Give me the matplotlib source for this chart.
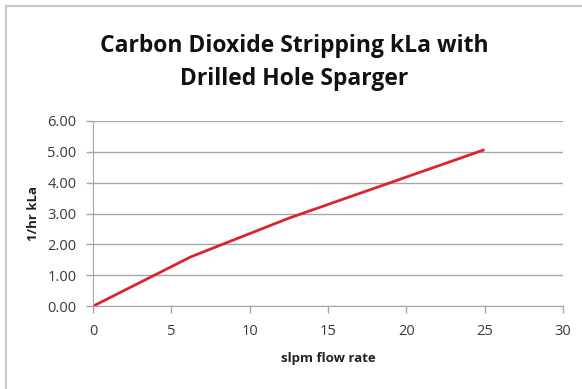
import matplotlib
matplotlib.use("Agg")
import matplotlib.pyplot as plt
from matplotlib.lines import Line2D

# flow rate (slpm) vs CO2 stripping kLa (1/hr)
flow_rate = [0, 6.25, 12.5, 25]
kla = [0.0, 1.6, 2.85, 5.07]

x_ticks = [0, 5, 10, 15, 20, 25, 30]
y_ticks = [0, 1, 2, 3, 4, 5, 6]

plt.rcParams['font.family'] = ['Open Sans', 'DejaVu Sans']

fig = plt.figure(figsize=(5.82, 3.89), dpi=100)
ax = fig.add_axes([0.160, 0.213, 0.807, 0.476])

ax.plot(flow_rate, kla, color='#d9262e', linewidth=2, solid_capstyle='butt')

ax.set_xlim(0, 30)
ax.set_ylim(0, 6)
ax.set_xticks(x_ticks)
ax.set_yticks(y_ticks)
ax.set_yticklabels(['%.2f' % v for v in y_ticks])
ax.grid(axis='y', color='#a6a6a6', linewidth=1)
ax.set_axisbelow(True)

for s in ['top', 'right']:
    ax.spines[s].set_visible(False)
ax.spines['left'].set_color('#a6a6a6')
ax.spines['bottom'].set_color('#a6a6a6')
ax.tick_params(colors='#a6a6a6', length=5, width=1, labelsize=10.5, labelcolor='#3a3a3a')
ax.tick_params(axis='x', pad=8)
ax.tick_params(axis='y', pad=7)

ax.set_xlabel('slpm flow rate', fontsize=9.5, fontweight='bold', color='#222222', labelpad=9)
ax.set_ylabel('1/hr kLa', fontsize=9.5, fontweight='bold', color='#222222', labelpad=5)

fig.text(0.505, 0.84, 'Carbon Dioxide Stripping kLa with\nDrilled Hole Sparger',
         ha='center', va='center', fontsize=16.5, fontweight='bold', color='#111111',
         linespacing=1.5)

# outer chart frame (only top and left visible in the crop)
fig.add_artist(Line2D([0.010, 1.0], [0.984, 0.984], transform=fig.transFigure, color='#c8c8c8', lw=1.5))
fig.add_artist(Line2D([0.010, 0.010], [0.0, 0.984], transform=fig.transFigure, color='#c8c8c8', lw=1.5))

fig.savefig('out.png', dpi=100)
